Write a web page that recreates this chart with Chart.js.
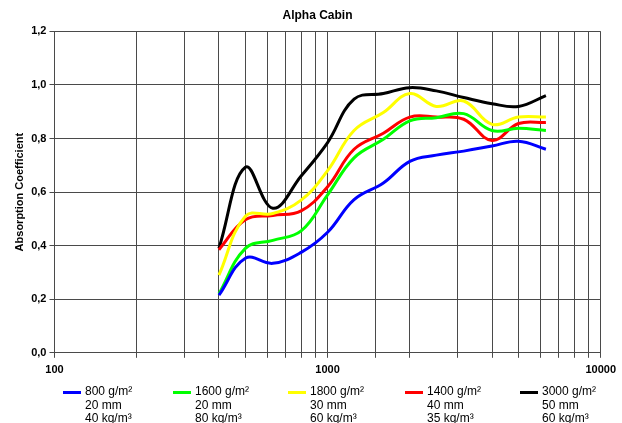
<!DOCTYPE html>
<html>
<head>
<meta charset="utf-8">
<script src="https://cdn.jsdelivr.net/npm/chart.js@4"></script>
<style>
    body { margin: 0; background: #fff; }
    #wrap { position: relative; width: 622px; height: 423px; }
    #legend { position: absolute; left: 0; top: 385px; width: 622px; font-family: 'Liberation Sans', Arial, sans-serif; font-size: 12px; color: #000; }
    .item { position: absolute; top: 0; line-height: 13.5px; }
    .item .swatch { position: absolute; left: -22px; top: 6px; width: 18px; height: 3px; }
</style>
</head>
<body>
<div id="wrap">
    <canvas id="absorptionChart" width="622" height="423"></canvas>
    <div id="legend"></div>
</div>
<script>
//////////////////////// Data ////////////////////////
const frequencies = [400, 500, 630, 800, 1000, 1250, 1600, 2000, 2500, 3150, 4000, 5000, 6300];
const seriesNames = [
    ['800 g/m²', '20 mm', '40 kg/m³'],
    ['1600 g/m²', '20 mm', '80 kg/m³'],
    ['1800 g/m²', '30 mm', '60 kg/m³'],
    ['1400 g/m²', '40 mm', '35 kg/m³'],
    ['3000 g/m²', '50 mm', '60 kg/m³']
];
const blue800 = [0.215, 0.353, 0.334, 0.375, 0.45, 0.572, 0.634, 0.715, 0.738, 0.753, 0.772, 0.79, 0.76];
const green1600 = [0.22, 0.39, 0.42, 0.455, 0.59, 0.728, 0.797, 0.866, 0.878, 0.893, 0.83, 0.838, 0.83];
const yellow1800 = [0.29, 0.51, 0.52, 0.57, 0.68, 0.83, 0.897, 0.968, 0.92, 0.94, 0.853, 0.88, 0.88];
const red1400 = [0.385, 0.497, 0.513, 0.53, 0.62, 0.76, 0.82, 0.88, 0.88, 0.872, 0.793, 0.856, 0.86];
const black3000 = [0.39, 0.693, 0.54, 0.66, 0.785, 0.947, 0.968, 0.99, 0.978, 0.953, 0.93, 0.92, 0.96];
const xLabels = [100, 1000, 10000];

const colors = ['#0000ff', '#00ff00', '#ffff00', '#ff0000', '#000000'];
const allSeries = [blue800, green1600, yellow1800, red1400, black3000];

//////////////////////// Chart ////////////////////////
document.addEventListener('DOMContentLoaded', () => {
    const font = 'Liberation Sans';

    const datasets = allSeries.map((values, i) => ({
        label: seriesNames[i].join(' '),
        data: values.map((v, j) => ({ x: frequencies[j], y: v })),
        borderColor: colors[i],
        backgroundColor: colors[i],
        borderWidth: 3,
        pointRadius: 0,
        tension: 0.4,
        fill: false
    }));

    const config = {
        type: 'line',
        data: { datasets: datasets },
        options: {
            responsive: false,
            animation: false,
            layout: { padding: { left: 13, right: 0, top: 4, bottom: 40 } },
            plugins: {
                legend: { display: false },
                tooltip: { enabled: false },
                title: {
                    display: true,
                    text: 'Alpha Cabin',
                    color: '#000',
                    font: { family: font, size: 12, weight: 'bold' },
                    padding: { top: 4, bottom: 9 }
                }
            },
            scales: {
                x: {
                    type: 'logarithmic',
                    min: 100,
                    max: 10000,
                    grid: { color: '#4a4a4a', lineWidth: 1, tickLength: 5 },
                    border: { color: '#4a4a4a' },
                    ticks: {
                        autoSkip: false,
                        maxRotation: 0,
                        color: '#000',
                        font: { family: font, size: 11, weight: 'bold' },
                        padding: 6,
                        callback: (value) => xLabels.includes(value) ? String(value) : ''
                    }
                },
                y: {
                    min: 0,
                    max: 1.2,
                    grid: { color: '#4a4a4a', lineWidth: 1, tickLength: 5 },
                    border: { color: '#4a4a4a' },
                    ticks: {
                        stepSize: 0.2,
                        color: '#000',
                        font: { family: font, size: 11, weight: 'bold' },
                        padding: 3,
                        callback: (value) => value.toFixed(1).replace('.', ',')
                    },
                    title: {
                        display: true,
                        text: 'Absorption Coefficient',
                        color: '#000',
                        font: { family: font, size: 11, weight: 'bold' },
                        padding: { top: 0, bottom: 2 }
                    }
                }
            }
        }
    };

    const ctx = document.getElementById('absorptionChart').getContext('2d');
    new Chart(ctx, config);

    // legend below the plot, three lines per entry
    const legend = document.getElementById('legend');
    const lefts = [85, 195, 310, 427, 542];
    seriesNames.forEach((lines, i) => {
        const item = document.createElement('div');
        item.className = 'item';
        item.style.left = lefts[i] + 'px';
        const sw = document.createElement('div');
        sw.className = 'swatch';
        sw.style.background = colors[i];
        item.appendChild(sw);
        item.insertAdjacentHTML('beforeend', lines.join('<br>'));
        legend.appendChild(item);
    });
});
</script>
</body>
</html>
